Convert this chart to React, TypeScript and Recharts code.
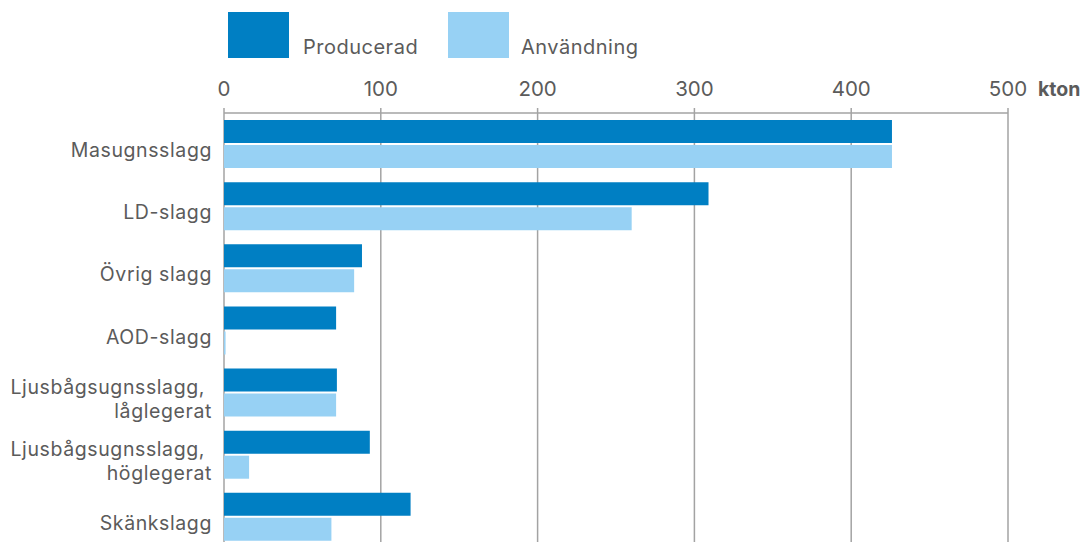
import { BarChart, Bar, XAxis, YAxis, CartesianGrid, Label } from "recharts";

const categories = [
  "Masugnsslagg",
  "LD-slagg",
  "Övrig slagg",
  "AOD-slagg",
  "Ljusbågsugnsslagg,\nlåglegerat",
  "Ljusbågsugnsslagg,\nhöglegerat",
  "Skänkslagg",
];
const producerad = [426, 309, 88, 71.5, 72, 93, 119];
const anvandning = [426, 260, 83, 1, 71.5, 16, 68.5];
const xTicks = [0, 100, 200, 300, 400, 500];

const series = [
  { key: "producerad", name: "Producerad", color: "#007fc3" },
  { key: "anvandning", name: "Användning", color: "#97d1f4" },
];

const data = categories.map((name, i) => ({
  name,
  producerad: producerad[i],
  anvandning: anvandning[i],
}));

const FONT = "Inter, Roboto, sans-serif";
const TEXT = "#5b5b5b";
const GRID = "#a3a3a3";

function CategoryTick(props: any) {
  const { x, y, payload } = props;
  const lines = String(payload.value).split("\n");
  const ys = lines.length === 1 ? [y + 13] : [y + 1, y + 25];
  // wrapped labels: the first line ends in a comma and sits a bit further left
  const xs = lines.length === 1 ? [x] : [x - 7, x];
  return (
    <text
      textAnchor="end"
      fill={TEXT}
      fontSize={19.5}
      letterSpacing={0.6}
      fontFamily={FONT}
    >
      {lines.map((l, i) => (
        <tspan key={i} x={xs[i]} y={ys[i]}>
          {l}
        </tspan>
      ))}
    </text>
  );
}

function UnitLabel(props: any) {
  const { viewBox } = props;
  return (
    <text
      x={viewBox.x + viewBox.width + 30}
      y={viewBox.y + viewBox.height - 17}
      fill={TEXT}
      fontSize={19.5}
      fontWeight={700}
      fontFamily={FONT}
    >
      kton
    </text>
  );
}

export default function App() {
  return (
    <div
      style={{
        position: "fixed",
        top: 0,
        left: 0,
        width: 1085,
        height: 542,
        overflow: "hidden",
        background: "#fff",
        fontFamily: FONT,
      }}
    >
      <div style={{ position: "absolute", top: 0, left: 0 }}>
        {series.map((s, i) => (
          <div key={s.key}>
            <div
              style={{
                position: "absolute",
                left: i === 0 ? 228 : 448,
                top: 12,
                width: 61,
                height: 46,
                background: s.color,
              }}
            />
            <div
              style={{
                position: "absolute",
                left: i === 0 ? 303 : 521,
                top: 35,
                fontSize: 20,
                letterSpacing: 0.5,
                color: TEXT,
                whiteSpace: "nowrap",
                lineHeight: "24px",
              }}
            >
              {s.name}
            </div>
          </div>
        ))}
      </div>
      <div style={{ position: "absolute", top: 0, left: 0 }}>
        <BarChart
          width={1085}
          height={548}
          data={data}
          layout="vertical"
          margin={{ top: 0, right: 77, bottom: 0, left: 0 }}
          barSize={23}
          barGap={2}
        >
          <CartesianGrid horizontal={false} stroke={GRID} strokeWidth={1.5} />
          <XAxis
            type="number"
            orientation="top"
            domain={[0, 500]}
            ticks={xTicks}
            height={113}
            tickSize={5}
            tickMargin={12}
            axisLine={{ stroke: GRID, strokeWidth: 1.5 }}
            tickLine={{ stroke: GRID, strokeWidth: 1.5 }}
            tick={{ fill: TEXT, fontSize: 20.5, fontFamily: FONT }}
            interval={0}
          >
            <Label content={<UnitLabel />} />
          </XAxis>
          <YAxis
            type="category"
            dataKey="name"
            width={224}
            axisLine={false}
            tickLine={false}
            tickSize={0}
            tickMargin={12}
            interval={0}
            tick={<CategoryTick />}
          />
          {series.map((s) => (
            <Bar
              key={s.key}
              dataKey={s.key}
              name={s.name}
              fill={s.color}
              isAnimationActive={false}
            />
          ))}
        </BarChart>
      </div>
    </div>
  );
}
